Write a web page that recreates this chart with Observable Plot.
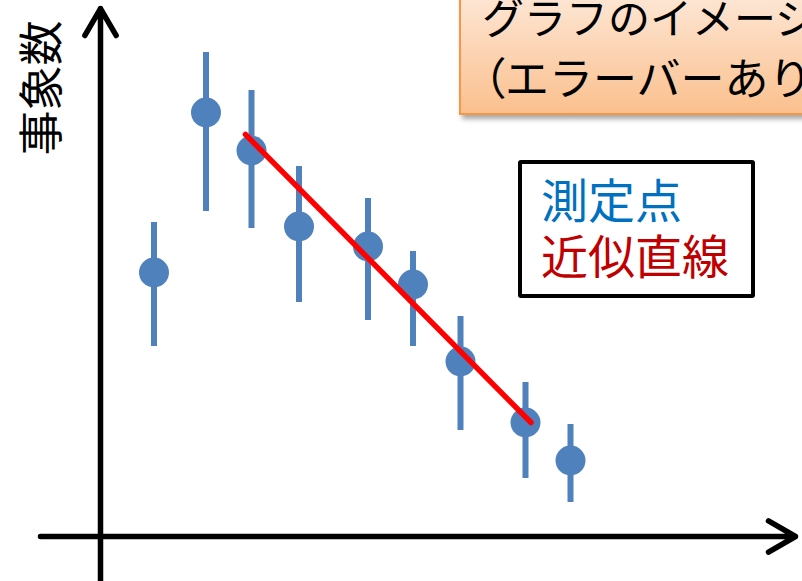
<!DOCTYPE html>
<html>
<head>
<meta charset="utf-8">
<script src="https://cdn.jsdelivr.net/npm/d3@7"></script>
<script src="https://cdn.jsdelivr.net/npm/@observablehq/plot@0.6"></script>
<style>
  html, body { margin: 0; padding: 0; background: #fff; overflow: hidden; }
  #wrap { position: relative; width: 802px; height: 581px; overflow: hidden;
          font-family: "Noto Sans CJK JP", "Noto Sans", sans-serif; }
  #chart svg { display: block; }
  .ylabel { position: absolute; left: 38px; top: 88px; font-size: 45px; line-height: 1;
            color: #000; white-space: nowrap; transform: translate(-50%, -50%) rotate(-90deg); }
  .titlebox { position: absolute; left: 459px; top: -12px; width: 400px; height: 127px;
              box-sizing: border-box; border: 2px solid #f79646;
              background: linear-gradient(#fde8d8, #fbc08e);
              box-shadow: 3px 4px 5px rgba(0,0,0,0.35); }
  .titlebox div { position: absolute; color: #000; white-space: nowrap; }
  .paren { font-feature-settings: "palt"; }
  .legend { position: absolute; left: 518px; top: 160px; width: 237px; height: 138px;
            box-sizing: border-box; border: 4px solid #000; border-radius: 3px; background: #fff; }
  .legend div { position: absolute; left: 19px; font-size: 47px; line-height: 47px; white-space: nowrap; }
</style>
</head>
<body>
<div id="wrap">
  <div id="chart"></div>
  <div class="ylabel">事象数</div>
  <div class="titlebox">
    <div style="top: 5px; left: 21px; font-size: 42px; line-height: 42px;">グラフのイメージ</div>
    <div style="top: 64px; left: 22px; font-size: 44px; line-height: 44px;"><span class="paren">（</span>エラーバーあり）</div>
  </div>
  <div class="legend">
    <div style="top: 10px; color: #0070c0;">測定点</div>
    <div style="top: 66px; color: #c00000;">近似直線</div>
  </div>
</div>
<script>
// Measured points: position, count, and asymmetric error-bar ends
const xs     = [1.07, 2.11, 3.02, 3.97, 5.35, 6.25, 7.2, 8.5, 9.4];
const counts = [132, 212, 193, 155, 145, 126, 87.5, 57, 38];
const errHi  = [157, 242, 223, 185, 169, 142.5, 110, 77, 56];
const errLo  = [95, 162.5, 154, 117, 108, 95, 53, 29, 17];

// Fitted straight line (end points)
const fitX = [2.9, 8.61];
const fitY = [201, 57];

// Extent of the two arrow axes
const xAxisFrom = -1.2, xAxisTo = 13.9;
const yAxisFrom = -22.5, yAxisTo = 264;

const points = xs.map((x, i) => ({x, y: counts[i], lo: errLo[i], hi: errHi[i]}));
const fit = fitX.map((x, i) => ({x, y: fitY[i]}));
const axes = [
  {x1: xAxisFrom, y1: 0, x2: xAxisTo, y2: 0},
  {x1: 0, y1: yAxisFrom, x2: 0, y2: yAxisTo}
];

const chart = Plot.plot({
  width: 802,
  height: 581,
  margin: 0,
  x: {domain: [-2, 14.04], axis: null},
  y: {domain: [-22.5, 268], axis: null},
  marks: [
    Plot.arrow(axes, {x1: "x1", y1: "y1", x2: "x2", y2: "y2",
      stroke: "#000", strokeWidth: 5.5, headLength: 8.5, headAngle: 60}),
    Plot.ruleX(points, {x: "x", y1: "lo", y2: "hi", stroke: "#4f81bd", strokeWidth: 6}),
    Plot.dot(points, {x: "x", y: "y", r: 15, fill: "#4f81bd", stroke: "none"}),
    Plot.line(fit, {x: "x", y: "y", stroke: "#ff0000", strokeWidth: 5.5})
  ]
});
document.getElementById("chart").appendChild(chart);
</script>
</body>
</html>
